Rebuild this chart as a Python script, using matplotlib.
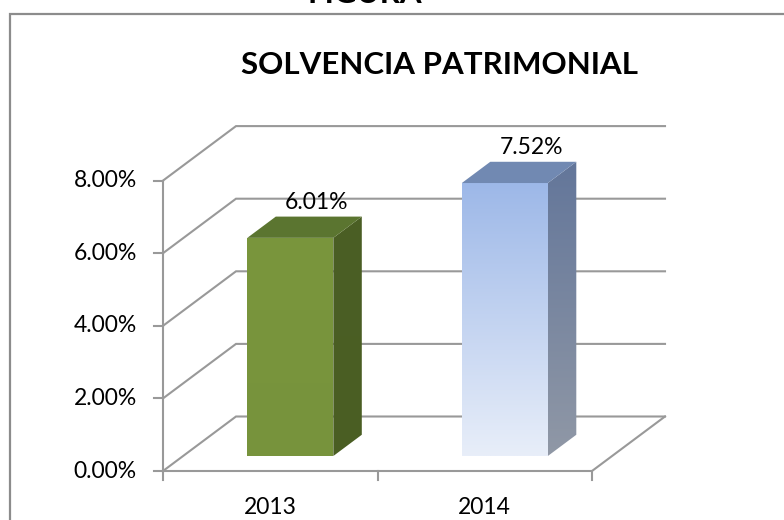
# -*- coding: utf-8 -*-
import numpy as np
import matplotlib
matplotlib.use('Agg')
import matplotlib.pyplot as plt
from matplotlib.patches import Polygon, Rectangle

plt.rcParams['font.family'] = ['Lato', 'DejaVu Sans']

years = ['2013', '2014']
solvencia = [6.01, 7.52]
labels = ['6.01%', '7.52%']
yticks = [0, 2, 4, 6, 8]
ytick_labels = ['0.00%', '2.00%', '4.00%', '6.00%', '8.00%']

W, H = 784, 520
X0, CAT = 163, 214.5      # borde frontal izquierdo y ancho por categoria (px)
Y0, PCT = 471, 36.3       # 0% frontal (px desde arriba) y px por 1%
DX, DY = 73 / CAT, 54.5 / PCT   # profundidad del piso en unidades de datos

GRID = '#999999'


def proj(x, v, d):
    return (x + d * DX, v + d * DY)


def face(ax, pts, color, z):
    ax.add_patch(Polygon(pts, closed=True, facecolor=color, edgecolor='none', zorder=z))


def gradient_face(ax, pts, c_top, c_bot, z):
    poly = Polygon(pts, closed=True, facecolor='none', edgecolor='none', zorder=z)
    ax.add_patch(poly)
    xs = [p[0] for p in pts]
    ys = [p[1] for p in pts]
    t = np.linspace(0, 1, 256)[:, None]
    c1 = np.array(matplotlib.colors.to_rgb(c_top))
    c2 = np.array(matplotlib.colors.to_rgb(c_bot))
    img = (c1 * (1 - t) + c2 * t)[:, None, :]
    im = ax.imshow(img, extent=(min(xs), max(xs), min(ys), max(ys)), origin='upper',
                   aspect='auto', zorder=z, interpolation='bilinear')
    im.set_clip_path(poly)


fig = plt.figure(figsize=(W / 100, H / 100), dpi=100)
ax = fig.add_axes([0, 0, 1, 1])
ax.axis('off')

# marco del grafico (cortado a la derecha y abajo)
fig.patches.append(Rectangle((10 / W, -0.1), 1.2, 1 - 14 / H + 0.1, transform=fig.transFigure,
                             facecolor='none', edgecolor='#8c8c8c', linewidth=1.6))

# paredes: lineas de cuadricula
for v in yticks:
    pts = [proj(-0.5, v, 0), proj(-0.5, v, 1), proj(1.5, v, 1)]
    ax.plot([p[0] for p in pts], [p[1] for p in pts], color=GRID, lw=1.5, zorder=1,
            solid_joinstyle='miter')
# piso
pts = [proj(-0.5, 0, 0), proj(1.5, 0, 0), proj(1.5, 0, 1)]
ax.plot([p[0] for p in pts], [p[1] for p in pts], color=GRID, lw=1.5, zorder=1)

# eje vertical y marcas
ax.plot([-0.5, -0.5], [0, yticks[-1]], color=GRID, lw=1.5, zorder=1)
tick_len = 9 / CAT
for v, lab in zip(yticks, ytick_labels):
    ax.plot([-0.5 - tick_len, -0.5], [v, v], color=GRID, lw=1.5, zorder=1)
    ax.text(-0.5 - 26 / CAT, v, lab, ha='right', va='center', fontsize=16.5, color='black')
for x in [-0.5, 0.5, 1.5]:
    ax.plot([x, x], [0, -9 / PCT], color=GRID, lw=1.5, zorder=1)
for i, y in enumerate(years):
    ax.text(i, -36 / PCT, y, ha='center', va='center', fontsize=16.5, color='black')

# barras 3D
bw = 86 / CAT
f0, f1 = 0.275, 0.665
styles = [
    dict(front=('#7a963d', '#77933c'), top='#5b7530', side=('#4b5f25', '#4a5e23')),
    dict(front=('#9db8e8', '#e8eef9'), top='#7189b2', side=('#63769a', '#9098a6')),
]
for i, (v, lab) in enumerate(zip(solvencia, labels)):
    st = styles[i]
    xl, xr = i - bw / 2, i + bw / 2
    front = [proj(xl, 0, f0), proj(xr, 0, f0), proj(xr, v, f0), proj(xl, v, f0)]
    top = [proj(xl, v, f0), proj(xr, v, f0), proj(xr, v, f1), proj(xl, v, f1)]
    side = [proj(xr, 0, f0), proj(xr, v, f0), proj(xr, v, f1), proj(xr, 0, f1)]
    gradient_face(ax, front, st['front'][0], st['front'][1], 3)
    gradient_face(ax, side, st['side'][0], st['side'][1], 3)
    face(ax, top, st['top'], 3)
    lx, ly = proj(i - 0.01, v, f1)
    ax.text(lx, ly + 14 / PCT, lab, ha='center', va='center', fontsize=16.5, color='black', zorder=5)

ax.set_xlim(-0.5 - X0 / CAT, -0.5 + (W - X0) / CAT)
ax.set_ylim(-(H - Y0) / PCT, Y0 / PCT)

fig.text(440 / W, 1 - 65 / H, 'SOLVENCIA PATRIMONIAL', ha='center', va='center',
         fontsize=22.5, fontweight='bold', color='black')
fig.text(365 / W, 1 - 3 / H, 'FIGURA', ha='center', va='baseline',
         fontsize=22.5, fontweight='bold', color='black')

plt.savefig('out.png', dpi=100)
